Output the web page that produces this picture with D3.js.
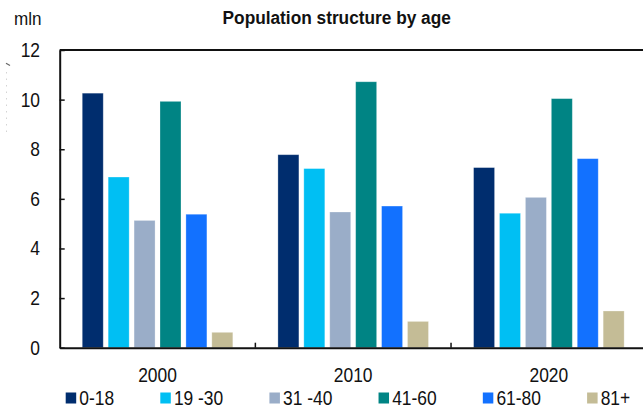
<!DOCTYPE html>
<html>
<head>
<meta charset="utf-8">
<script src="https://cdn.jsdelivr.net/npm/d3@7"></script>
<style>
  html, body { margin: 0; padding: 0; background: #fff; }
  svg { display: block; }
  text { font-family: "Liberation Sans", Arial, sans-serif; fill: #111; }
</style>
</head>
<body>
<svg id="chart" width="643" height="410"></svg>
<script>
// Population (mln) by age group, census years
const years = ["2000", "2010", "2020"];
const ageGroups = ["0-18", "19 -30", "31 -40", "41-60", "61-80", "81+"];
const pop0to18  = [10.26, 7.78, 7.26];
const pop19to30 = [6.88, 7.22, 5.42];
const pop31to40 = [5.13, 5.47, 6.06];
const pop41to60 = [9.93, 10.72, 10.04];
const pop61to80 = [5.38, 5.71, 7.62];
const pop81plus = [0.62, 1.06, 1.48];
const yTicks = [0, 2, 4, 6, 8, 10, 12];
const groupColors = ["#002D6E", "#00BFF3", "#9AADC8", "#008484", "#1271FF", "#C4BC96"];

const seriesValues = [pop0to18, pop19to30, pop31to40, pop41to60, pop61to80, pop81plus];

const svg = d3.select("#chart");
const plotLeft = 59.7, plotTop = 50, plotBottom = 347.7, plotRight = 646.7;
const sx = 0.87; // narrow letterforms

// text helper: horizontally condensed label
function label(g, x, y, str, opts = {}) {
  return g.append("text")
    .attr("transform", `translate(${x},${y}) scale(${opts.sx ?? sx},1)`)
    .attr("text-anchor", opts.anchor || "start")
    .attr("font-size", opts.size || 20)
    .attr("font-weight", opts.weight || "normal")
    .text(str);
}

const x0 = d3.scaleBand().domain(years).range([plotLeft, plotRight]);
const x1 = d3.scaleBand().domain(ageGroups).range([0, x0.bandwidth()])
  .paddingInner(0.19).paddingOuter(0.87);
const y = d3.scaleLinear().domain([0, 12]).range([plotBottom, plotTop]);

// faint remnant of a clipped side label at the left edge
svg.append("line").attr("x1", 6).attr("y1", 63.3).attr("x2", 10).attr("y2", 65.5)
  .attr("stroke", "#666").attr("stroke-width", 1.2);
svg.append("line").attr("x1", 6.5).attr("y1", 72).attr("x2", 6.5).attr("y2", 136)
  .attr("stroke", "#d4d4d4").attr("stroke-width", 1).attr("stroke-dasharray", "1.5,5");

// bars
const rows = years.map((yr, i) => ({ year: yr, vals: ageGroups.map((a, k) => ({ key: a, value: seriesValues[k][i], color: groupColors[k] })) }));
const gYear = svg.append("g").selectAll("g").data(rows).join("g")
  .attr("transform", d => `translate(${x0(d.year)},0)`);
gYear.selectAll("rect").data(d => d.vals).join("rect")
  .attr("x", d => x1(d.key))
  .attr("width", x1.bandwidth())
  .attr("y", d => y(d.value))
  .attr("height", d => y(0) - y(d.value))
  .attr("fill", d => d.color)
  .attr("stroke", "#fff").attr("stroke-opacity", 0.35).attr("stroke-width", 0.8);

// frame: top line and axes
svg.append("line").attr("x1", plotLeft).attr("x2", plotRight).attr("y1", plotTop).attr("y2", plotTop)
  .attr("stroke", "#111").attr("stroke-width", 2);

const yAxis = d3.axisLeft(y).tickValues(yTicks).tickSizeInner(-5).tickSizeOuter(0).tickFormat("");
const gy = svg.append("g").attr("transform", `translate(${plotLeft},0)`).call(yAxis);
gy.select(".domain").attr("stroke", "#111").attr("stroke-width", 2);
gy.selectAll(".tick line").attr("stroke", "#111").attr("stroke-width", 1.5);
yTicks.forEach(t => label(svg, 40, y(t) + 7, String(t), { anchor: "end" }));

const xAxis = d3.axisBottom(x0).tickSize(0).tickFormat("");
const gx = svg.append("g").attr("transform", `translate(0,${plotBottom})`).call(xAxis);
gx.select(".domain").attr("stroke", "#111").attr("stroke-width", 2);
// separators between years
years.slice(1).forEach(yr => {
  svg.append("line").attr("x1", x0(yr)).attr("x2", x0(yr))
    .attr("y1", plotBottom).attr("y2", plotBottom - 5)
    .attr("stroke", "#111").attr("stroke-width", 1.5);
});
years.forEach(yr => label(svg, x0(yr) + x0.bandwidth() / 2, 381.5, yr, { anchor: "middle" }));

// titles
label(svg, 336.7, 24, "Population structure by age", { anchor: "middle", size: 18, weight: "bold", sx: 0.96 });
label(svg, 14, 25, "mln", { size: 18, sx: 0.95 });

// legend
const legend = svg.append("g");
let lx = 65.7;
ageGroups.forEach((a, k) => {
  legend.append("rect").attr("x", lx).attr("y", 392.5).attr("width", 10.5).attr("height", 11)
    .attr("fill", groupColors[k]);
  const t = label(legend, lx + 13.6, 405, a);
  const w = t.node().getComputedTextLength() * sx;
  lx = lx + 13.6 + w + 46.2;
});
</script>
</body>
</html>
